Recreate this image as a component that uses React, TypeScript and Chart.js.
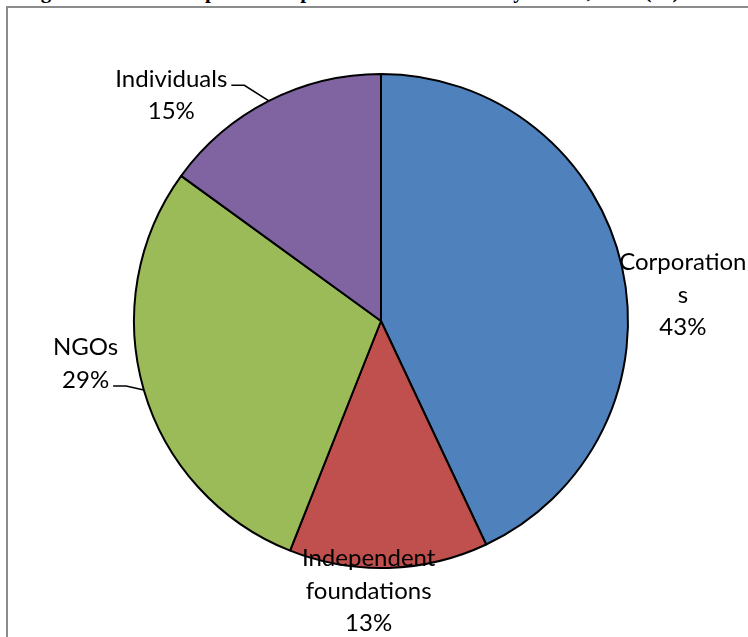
import { useEffect, useRef } from "react";
import { Chart, registerables } from "chart.js";

Chart.register(...registerables);

// Sources of philanthropic resources, share of total (%)
const categories = ["Corporations", "Independent foundations", "NGOs", "Individuals"];
const shares = [43, 13, 29, 15];
// How each category name wraps inside its data label
const labelLines = [["Corporation", "s"], ["Independent", "foundations"], ["NGOs"], ["Individuals"]];
const sliceColors = ["#4F81BD", "#C0504D", "#9BBB59", "#8064A2"];

const titleText = "Figure 3.2: Share of philanthropic resources received by source, 2009 (%)";

// Label anchors relative to the pie centre, in units of the radius
const labelPlacement = [
  { fx: 1.222, fy: -0.105, leaderLine: -1 },
  { fx: -0.05, fy: 1.093, leaderLine: -1 },
  { fx: -1.196, fy: 0.173, leaderLine: 1 },
  { fx: -0.849, fy: -0.913, leaderLine: 0 },
];

const LABEL_FONT = "24px Lato, 'Noto Sans', sans-serif";
const LINE_GAP = 32.5;

const pieLabels = {
  id: "pieLabels",
  afterDraw(chart: any) {
    const ctx = chart.ctx as CanvasRenderingContext2D;
    const meta = chart.getDatasetMeta(0);
    ctx.save();
    ctx.font = LABEL_FONT;
    ctx.fillStyle = "#000";
    ctx.strokeStyle = "#000";
    ctx.lineWidth = 1.6;
    ctx.textAlign = "center";
    ctx.textBaseline = "middle";
    meta.data.forEach((arc: any, i: number) => {
      const p = arc.getProps(["x", "y", "startAngle", "endAngle", "outerRadius"], true);
      const place = labelPlacement[i];
      const lines = [...labelLines[i], `${shares[i]}%`];
      const ax = p.x + place.fx * p.outerRadius;
      const ay = p.y + place.fy * p.outerRadius;
      const top = ay - ((lines.length - 1) * LINE_GAP) / 2;
      lines.forEach((t, k) => ctx.fillText(t, ax, top + k * LINE_GAP));
      if (place.leaderLine >= 0) {
        const mid = (p.startAngle + p.endAngle) / 2;
        const mx = p.x + Math.cos(mid) * p.outerRadius;
        const my = p.y + Math.sin(mid) * p.outerRadius;
        const w = ctx.measureText(lines[place.leaderLine]).width;
        const sx = ax + w / 2 + 4;
        const sy = top + place.leaderLine * LINE_GAP + 6;
        ctx.beginPath();
        ctx.moveTo(sx, sy);
        ctx.lineTo(sx + 13, sy);
        ctx.lineTo(mx, my);
        ctx.stroke();
      }
    });
    ctx.restore();
  },
};

export default function App() {
  const canvasRef = useRef<HTMLCanvasElement | null>(null);

  useEffect(() => {
    if (!canvasRef.current) return;
    const chart = new Chart(canvasRef.current, {
      type: "pie",
      data: {
        labels: categories,
        datasets: [
          {
            data: shares,
            backgroundColor: sliceColors,
            borderColor: "#000",
            borderWidth: 2,
            hoverOffset: 0,
          },
        ],
      },
      options: {
        responsive: false,
        animation: false,
        devicePixelRatio: 1,
        layout: { padding: { left: 133, right: 119, top: 73, bottom: 68 } },
        plugins: {
          legend: { display: false },
          tooltip: { enabled: false },
          title: { display: false },
        },
      },
      plugins: [pieLabels],
    });
    return () => chart.destroy();
  }, []);

  return (
    <div
      style={{
        position: "fixed",
        left: 0,
        top: 0,
        width: 748,
        height: 637,
        overflow: "hidden",
        background: "#fff",
      }}
    >
      <div
        style={{
          position: "absolute",
          left: 22,
          top: -21,
          font: "bold 21px 'Liberation Serif', 'Times New Roman', serif",
          lineHeight: "24px",
          whiteSpace: "nowrap",
          color: "#000",
        }}
      >
        {titleText}
      </div>
      <div
        style={{
          position: "absolute",
          left: 6,
          top: 6,
          width: 800,
          height: 700,
          borderTop: "2px solid #8c8c8c",
          borderLeft: "2px solid #8c8c8c",
        }}
      />
      <canvas
        ref={canvasRef}
        width={748}
        height={637}
        style={{ position: "absolute", left: 0, top: 0 }}
      />
    </div>
  );
}
